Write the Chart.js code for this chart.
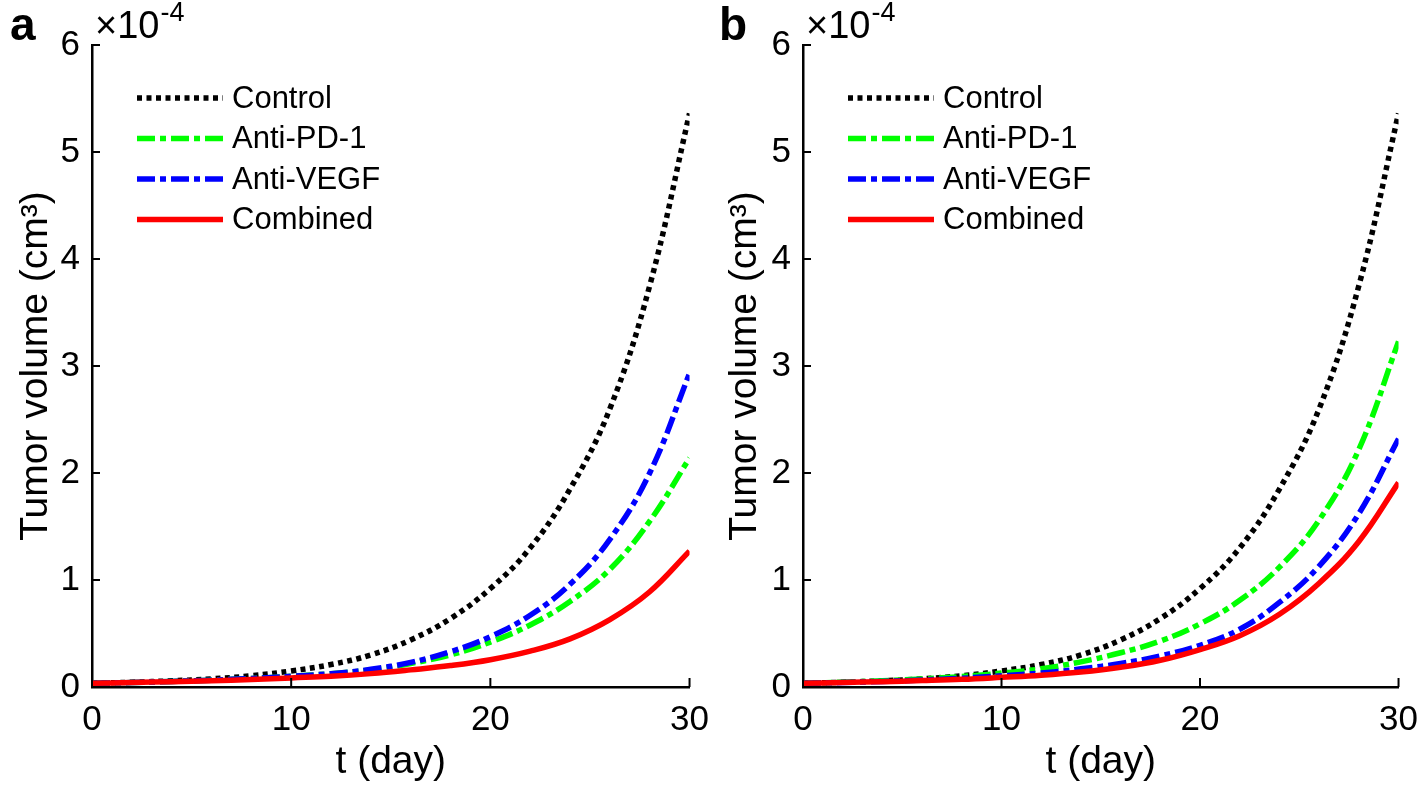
<!DOCTYPE html>
<html>
<head>
<meta charset="utf-8">
<script src="https://cdn.jsdelivr.net/npm/chart.js@4.4.1/dist/chart.umd.min.js"></script>
<style>
  html, body { margin: 0; padding: 0; background: #fff; overflow: hidden; width: 1418px; height: 796px; }
  canvas { position: absolute; top: 0; }
  #chartA { left: 0; }
  #chartB { left: 709px; }
</style>
</head>
<body>
<canvas id="chartA" width="721" height="796"></canvas>
<canvas id="chartB" width="709" height="796"></canvas>
<script>
// Tumor volume (x 1e-4 cm^3) vs time, two scenarios (a, b)
const days = [0, 2, 4, 6, 8, 10, 12, 14, 16, 18, 20, 22, 24, 26, 28, 30];
const seriesLabels = ['Control', 'Anti-PD-1', 'Anti-VEGF', 'Combined'];
const xTicks = [0, 10, 20, 30];
const yTicks = [0, 1, 2, 3, 4, 5, 6];

// panel a
const controlA  = [0.035, 0.045, 0.058, 0.076, 0.105, 0.15, 0.21, 0.30, 0.44, 0.64, 0.92, 1.30, 1.85, 2.60, 3.75, 5.36];
const pd1A      = [0.035, 0.042, 0.052, 0.064, 0.08, 0.10, 0.125, 0.16, 0.22, 0.30, 0.42, 0.58, 0.80, 1.10, 1.55, 2.14];
const vegfA     = [0.035, 0.042, 0.052, 0.064, 0.08, 0.10, 0.125, 0.165, 0.23, 0.33, 0.47, 0.67, 0.96, 1.38, 2.00, 2.93];
const combinedA = [0.035, 0.042, 0.05, 0.058, 0.07, 0.085, 0.10, 0.125, 0.16, 0.20, 0.255, 0.335, 0.45, 0.63, 0.89, 1.27];

// panel b
const controlB  = [0.035, 0.045, 0.058, 0.076, 0.105, 0.15, 0.21, 0.30, 0.44, 0.64, 0.92, 1.30, 1.85, 2.60, 3.75, 5.36];
const pd1B      = [0.035, 0.045, 0.058, 0.075, 0.098, 0.13, 0.17, 0.235, 0.32, 0.43, 0.59, 0.81, 1.12, 1.56, 2.22, 3.23];
const vegfB     = [0.035, 0.042, 0.052, 0.065, 0.082, 0.105, 0.13, 0.17, 0.22, 0.29, 0.39, 0.54, 0.79, 1.13, 1.62, 2.32];
const combinedB = [0.035, 0.042, 0.05, 0.06, 0.072, 0.09, 0.11, 0.14, 0.185, 0.25, 0.35, 0.48, 0.68, 0.97, 1.36, 1.91];

const FONT = '"Liberation Sans", Arial, Helvetica, sans-serif';
Chart.defaults.font.family = FONT;
Chart.defaults.color = '#000';

const styles = [
  { color: '#000000', dash: [5, 4.5], order: 4 },
  { color: '#00ff00', dash: [18, 5, 6, 5], order: 3 },
  { color: '#0000ff', dash: [18, 5, 6, 5], order: 2 },
  { color: '#ff0000', dash: [], order: 1 },
];

const toPoints = vals => vals.map((v, i) => ({ x: days[i], y: v }));

// inward ticks, in-plot legend, exponent and panel letter
const decorations = {
  id: 'decorations',
  afterDraw(chart, args, opts) {
    const { ctx, chartArea, scales: { x, y } } = chart;
    ctx.save();
    ctx.strokeStyle = '#000';
    ctx.lineWidth = 2;
    xTicks.forEach(v => {
      const px = x.getPixelForValue(v);
      ctx.beginPath();
      ctx.moveTo(px, chartArea.bottom);
      ctx.lineTo(px, chartArea.bottom - 9);
      ctx.stroke();
    });
    yTicks.forEach(v => {
      const py = y.getPixelForValue(v);
      ctx.beginPath();
      ctx.moveTo(chartArea.left, py);
      ctx.lineTo(chartArea.left + 8, py);
      ctx.stroke();
    });

    // legend
    ctx.font = '31px ' + FONT;
    ctx.textBaseline = 'middle';
    ctx.fillStyle = '#000';
    chart.data.datasets.forEach((ds, i) => {
      const ly = chartArea.top + 53 + i * 40.5;
      ctx.setLineDash(ds.borderDash);
      ctx.strokeStyle = ds.borderColor;
      ctx.lineWidth = ds.borderWidth;
      ctx.beginPath();
      ctx.moveTo(chartArea.left + 45, ly);
      ctx.lineTo(chartArea.left + 131, ly);
      ctx.stroke();
      ctx.setLineDash([]);
      ctx.fillText(ds.label, chartArea.left + 140, ly + 1);
    });

    // x10^-4
    ctx.textBaseline = 'alphabetic';
    ctx.font = '38px ' + FONT;
    ctx.fillText('\u00d710', chartArea.left + 3, 38);
    const w = ctx.measureText('\u00d710').width;
    ctx.font = '27px ' + FONT;
    ctx.fillText('-4', chartArea.left + 4 + w, 21);

    // panel letter
    ctx.font = 'bold 46px ' + FONT;
    ctx.fillText(opts.letter, 10, 40);
    ctx.restore();
  },
};

function makePanel(id, letter, yWidth, series) {
  return new Chart(document.getElementById(id), {
    type: 'line',
    data: {
      datasets: series.map((vals, i) => ({
        label: seriesLabels[i],
        data: toPoints(vals),
        borderColor: styles[i].color,
        borderDash: styles[i].dash,
        borderWidth: 5.5,
        borderCapStyle: 'butt',
        pointRadius: 0,
        fill: false,
        tension: 0.4,
        order: styles[i].order,
      })),
    },
    options: {
      responsive: false,
      animation: false,
      events: [],
      layout: { padding: { left: 0, top: 45, right: 9, bottom: 0 } },
      plugins: { legend: { display: false }, tooltip: { enabled: false }, decorations: { letter } },
      scales: {
        x: {
          type: 'linear',
          min: 0,
          max: 30,
          afterBuildTicks: s => { s.ticks = xTicks.map(v => ({ value: v })); },
          afterFit: s => { s.height = 109; },
          grid: { display: false, drawTicks: false },
          border: { display: true, color: '#000', width: 2.5 },
          ticks: { font: { size: 35 }, padding: 12, maxRotation: 0 },
          title: { display: true, text: 't (day)', font: { size: 39 }, padding: { top: 0, bottom: 10 } },
        },
        y: {
          type: 'linear',
          min: 0,
          max: 6,
          afterBuildTicks: s => { s.ticks = yTicks.map(v => ({ value: v })); },
          afterFit: s => { s.width = yWidth; },
          grid: { display: false, drawTicks: false },
          border: { display: true, color: '#000', width: 2.5 },
          ticks: { font: { size: 35 }, padding: 12 },
          title: { display: true, text: 'Tumor volume (cm\u00b3)', font: { size: 39 }, padding: { top: 13, bottom: 0 } },
        },
      },
    },
    plugins: [decorations],
  });
}

// panel b canvas widened too, so its plot reaches x = 1399
document.getElementById('chartB').width = 721;
makePanel('chartA', 'a', 92, [controlA, pd1A, vegfA, combinedA]);
makePanel('chartB', 'b', 94, [controlB, pd1B, vegfB, combinedB]);
</script>
</body>
</html>
